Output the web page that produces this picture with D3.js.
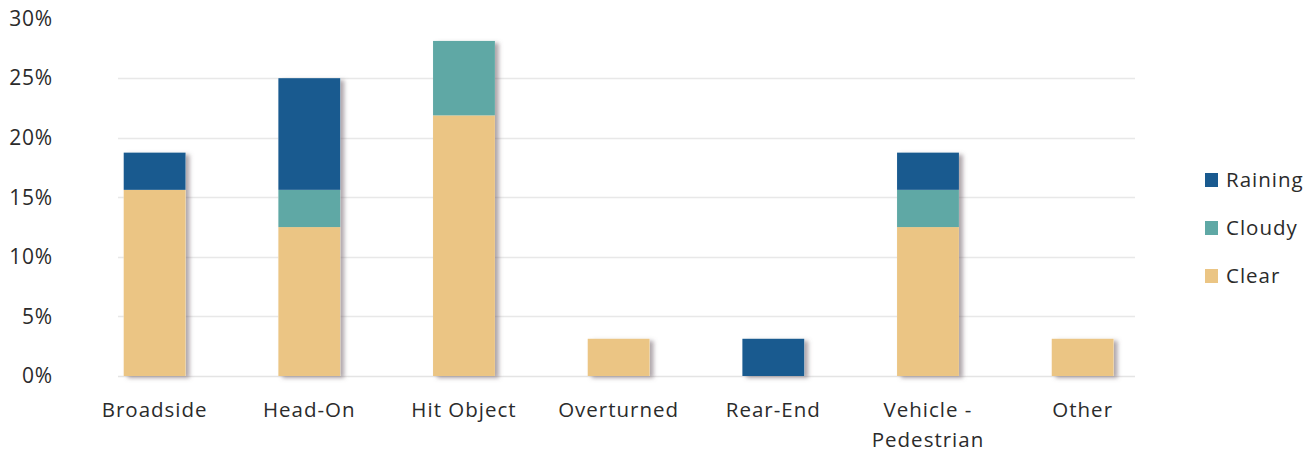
<!DOCTYPE html>
<html>
<head>
<meta charset="utf-8">
<script src="https://cdn.jsdelivr.net/npm/d3@7"></script>
<style>
  html, body { margin: 0; padding: 0; background: #fff; }
  svg { display: block; }
  text { font-family: "Open Sans", sans-serif; fill: #2b2b2b; }
</style>
</head>
<body>
<svg id="chart" width="1312" height="453"></svg>
<script>
const categories = ["Broadside", "Head-On", "Hit Object", "Overturned", "Rear-End", "Vehicle - Pedestrian", "Other"];
const categoryLines = [["Broadside"], ["Head-On"], ["Hit Object"], ["Overturned"], ["Rear-End"], ["Vehicle -", "Pedestrian"], ["Other"]];
const seriesNames = ["Clear", "Cloudy", "Raining"];
const clearValues   = [15.625, 12.5, 21.875, 3.125, 0,     12.5,  3.125];
const cloudyValues  = [0,      3.125, 6.25,  0,     0,     3.125, 0];
const rainingValues = [3.125,  9.375, 0,     0,     3.125, 3.125, 0];
const yTicks = [0, 5, 10, 15, 20, 25, 30];
const colors = { Clear: "#ebc584", Cloudy: "#5fa8a5", Raining: "#195a8f" };

const svg = d3.select("#chart");
const x = d3.scaleBand().domain(categories).range([77.3, 1160]).paddingInner(0.6).paddingOuter(0.3);
const y = d3.scaleLinear().domain([0, 30]).range([376, 18.6]);

const defs = svg.append("defs");
const f = defs.append("filter").attr("id", "shadow").attr("x", "-20%").attr("y", "-20%").attr("width", "150%").attr("height", "150%");
f.append("feDropShadow").attr("dx", 4).attr("dy", 2).attr("stdDeviation", 2)
  .attr("flood-color", "#6e5f66").attr("flood-opacity", 0.55);

// gridlines
svg.append("g").selectAll("line").data(yTicks.filter(t => t < 30)).join("line")
  .attr("x1", 118).attr("x2", 1135)
  .attr("y1", d => Math.round(y(d)) + 0.5).attr("y2", d => Math.round(y(d)) + 0.5)
  .attr("stroke", d => d === 0 ? "#e4e4e4" : "#e8e8e8").attr("stroke-width", 1.5);

// y axis labels
const yAxis = d3.axisLeft(y).tickValues(yTicks).tickFormat(d => d + "%").tickSize(0).tickPadding(0);
const ya = svg.append("g").attr("transform", "translate(53,0)").call(yAxis);
ya.select(".domain").remove();
ya.selectAll("text").style("font-size", "21px").style("letter-spacing", "0.8px").style("font-family", "'Open Sans', sans-serif").attr("fill", "#2b2b2b");

// stacked bars
const rows = categories.map((c, i) => ({ cat: c, Clear: clearValues[i], Cloudy: cloudyValues[i], Raining: rainingValues[i] }));
const stack = d3.stack().keys(seriesNames)(rows);

const barsG = svg.append("g");
barsG.selectAll("rect.sh").data(rows).join("rect").attr("class", "sh")
  .attr("x", d => x(d.cat)).attr("width", x.bandwidth())
  .attr("y", d => y(d.Clear + d.Cloudy + d.Raining))
  .attr("height", d => y(0) - y(d.Clear + d.Cloudy + d.Raining))
  .attr("fill", "#fff").attr("filter", "url(#shadow)");

stack.forEach(layer => {
  barsG.append("g").selectAll("rect").data(layer.filter(d => d[1] - d[0] > 0)).join("rect")
    .attr("x", d => x(d.data.cat)).attr("width", x.bandwidth())
    .attr("y", d => y(d[1])).attr("height", d => y(d[0]) - y(d[1]))
    .attr("fill", colors[layer.key]);
});

// x labels
const xl = svg.append("g");
categories.forEach((c, i) => {
  const t = xl.append("text").attr("x", x(c) + x.bandwidth() / 2).attr("y", 417)
    .attr("text-anchor", "middle").style("font-size", "20.5px").style("letter-spacing", "1px");
  categoryLines[i].forEach((line, j) => {
    t.append("tspan").attr("x", x(c) + x.bandwidth() / 2).attr("dy", j === 0 ? 0 : 30).text(line);
  });
});

// legend
const legendOrder = ["Raining", "Cloudy", "Clear"];
const lg = svg.append("g");
legendOrder.forEach((k, i) => {
  const yy = 180 + i * 48;
  lg.append("rect").attr("x", 1205).attr("y", yy - 7).attr("width", 13).attr("height", 14).attr("fill", colors[k]);
  lg.append("text").attr("x", 1226).attr("y", yy + 7).style("font-size", "20.5px").style("letter-spacing", "1px").text(k);
});
</script>
</body>
</html>
